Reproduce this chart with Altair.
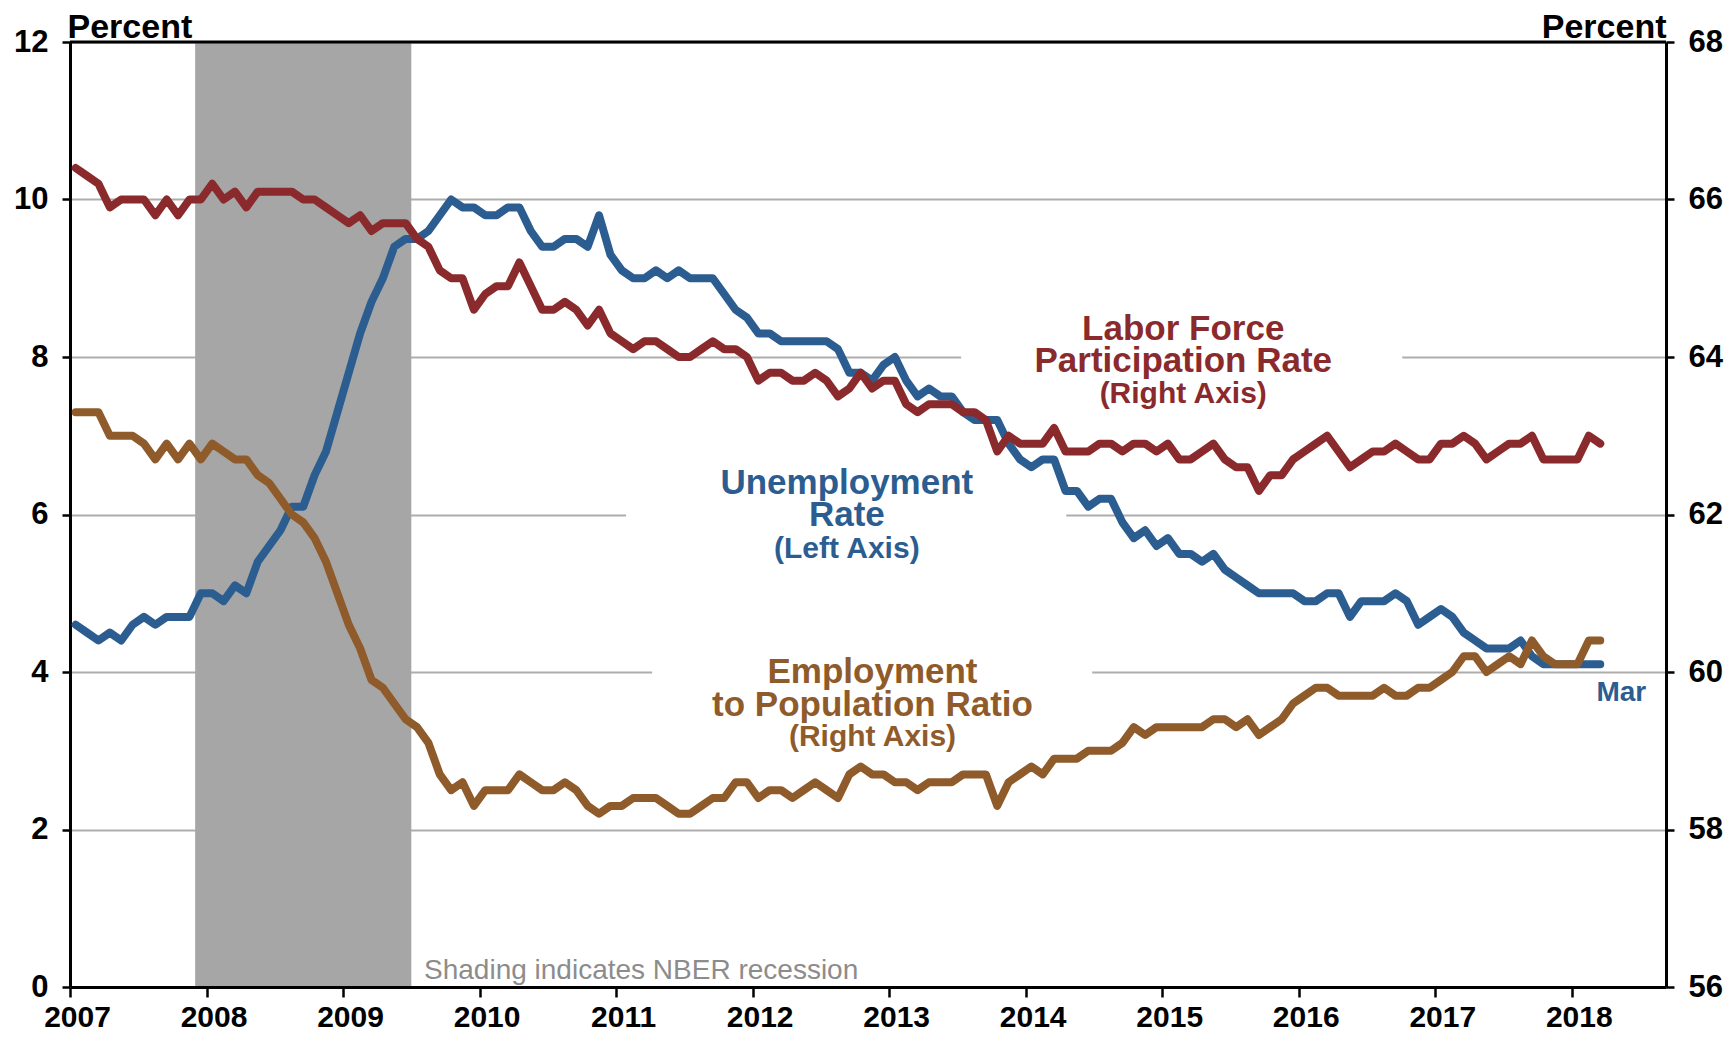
import altair as alt
import pandas as pd

FONT = "Liberation Sans"
BLUE = "#2C5D91"
RED = "#8B2A2C"
BROWN = "#8F5B2A"
SHADE = "#A6A6A6"
GRID = "#ADADAD"
NOTE_COLOR = "#8C8C8C"

# ---------------- data (monthly, Jan 2007 - Mar 2018) ----------------
START_YEAR = 2007

unemployment = [
    4.6, 4.5, 4.4, 4.5, 4.4, 4.6, 4.7, 4.6, 4.7, 4.7, 4.7, 5.0,
    5.0, 4.9, 5.1, 5.0, 5.4, 5.6, 5.8, 6.1, 6.1, 6.5, 6.8, 7.3,
    7.8, 8.3, 8.7, 9.0, 9.4, 9.5, 9.5, 9.6, 9.8, 10.0, 9.9, 9.9,
    9.8, 9.8, 9.9, 9.9, 9.6, 9.4, 9.4, 9.5, 9.5, 9.4, 9.8, 9.3,
    9.1, 9.0, 9.0, 9.1, 9.0, 9.1, 9.0, 9.0, 9.0, 8.8, 8.6, 8.5,
    8.3, 8.3, 8.2, 8.2, 8.2, 8.2, 8.2, 8.1, 7.8, 7.8, 7.7, 7.9,
    8.0, 7.7, 7.5, 7.6, 7.5, 7.5, 7.3, 7.2, 7.2, 7.2, 6.9, 6.7,
    6.6, 6.7, 6.7, 6.3, 6.3, 6.1, 6.2, 6.2, 5.9, 5.7, 5.8, 5.6,
    5.7, 5.5, 5.5, 5.4, 5.5, 5.3, 5.2, 5.1, 5.0, 5.0, 5.0, 5.0,
    4.9, 4.9, 5.0, 5.0, 4.7, 4.9, 4.9, 4.9, 5.0, 4.9, 4.6, 4.7,
    4.8, 4.7, 4.5, 4.4, 4.3, 4.3, 4.3, 4.4, 4.2, 4.1, 4.1, 4.1,
    4.1, 4.1, 4.1,
]

participation = [
    66.4, 66.3, 66.2, 65.9, 66.0, 66.0, 66.0, 65.8, 66.0, 65.8, 66.0, 66.0,
    66.2, 66.0, 66.1, 65.9, 66.1, 66.1, 66.1, 66.1, 66.0, 66.0, 65.9, 65.8,
    65.7, 65.8, 65.6, 65.7, 65.7, 65.7, 65.5, 65.4, 65.1, 65.0, 65.0, 64.6,
    64.8, 64.9, 64.9, 65.2, 64.9, 64.6, 64.6, 64.7, 64.6, 64.4, 64.6, 64.3,
    64.2, 64.1, 64.2, 64.2, 64.1, 64.0, 64.0, 64.1, 64.2, 64.1, 64.1, 64.0,
    63.7, 63.8, 63.8, 63.7, 63.7, 63.8, 63.7, 63.5, 63.6, 63.8, 63.6, 63.7,
    63.7, 63.4, 63.3, 63.4, 63.4, 63.4, 63.3, 63.3, 63.2, 62.8, 63.0, 62.9,
    62.9, 62.9, 63.1, 62.8, 62.8, 62.8, 62.9, 62.9, 62.8, 62.9, 62.9, 62.8,
    62.9, 62.7, 62.7, 62.8, 62.9, 62.7, 62.6, 62.6, 62.3, 62.5, 62.5, 62.7,
    62.8, 62.9, 63.0, 62.8, 62.6, 62.7, 62.8, 62.8, 62.9, 62.8, 62.7, 62.7,
    62.9, 62.9, 63.0, 62.9, 62.7, 62.8, 62.9, 62.9, 63.0, 62.7, 62.7, 62.7,
    62.7, 63.0, 62.9,
]

emp_pop = [
    63.3, 63.3, 63.3, 63.0, 63.0, 63.0, 62.9, 62.7, 62.9, 62.7, 62.9, 62.7,
    62.9, 62.8, 62.7, 62.7, 62.5, 62.4, 62.2, 62.0, 61.9, 61.7, 61.4, 61.0,
    60.6, 60.3, 59.9, 59.8, 59.6, 59.4, 59.3, 59.1, 58.7, 58.5, 58.6, 58.3,
    58.5, 58.5, 58.5, 58.7, 58.6, 58.5, 58.5, 58.6, 58.5, 58.3, 58.2, 58.3,
    58.3, 58.4, 58.4, 58.4, 58.3, 58.2, 58.2, 58.3, 58.4, 58.4, 58.6, 58.6,
    58.4, 58.5, 58.5, 58.4, 58.5, 58.6, 58.5, 58.4, 58.7, 58.8, 58.7, 58.7,
    58.6, 58.6, 58.5, 58.6, 58.6, 58.6, 58.7, 58.7, 58.7, 58.3, 58.6, 58.7,
    58.8, 58.7, 58.9, 58.9, 58.9, 59.0, 59.0, 59.0, 59.1, 59.3, 59.2, 59.3,
    59.3, 59.3, 59.3, 59.3, 59.4, 59.4, 59.3, 59.4, 59.2, 59.3, 59.4, 59.6,
    59.7, 59.8, 59.8, 59.7, 59.7, 59.7, 59.7, 59.8, 59.7, 59.7, 59.8, 59.8,
    59.9, 60.0, 60.2, 60.2, 60.0, 60.1, 60.2, 60.1, 60.4, 60.2, 60.1, 60.1,
    60.1, 60.4, 60.4,
]

# NBER recession: Dec 2007 through Jun 2009 (year, month)
recession_start = (2007, 12)
recession_end = (2009, 6)

year_ticks = list(range(2007, 2019))
left_ticks = [0, 2, 4, 6, 8, 10, 12]
right_ticks = [56, 58, 60, 62, 64, 66, 68]

# ---------------- annotations (positions in data units, left scale) ----------------
ann_text = ["Labor Force", "Participation Rate", "(Right Axis)",
            "Unemployment", "Rate", "(Left Axis)",
            "Employment", "to Population Ratio", "(Right Axis)",
            "Mar"]
ann_x = [2015.154, 2015.154, 2015.154,
         2012.690, 2012.690, 2012.690,
         2012.878, 2012.878, 2012.878,
         2018.363]
ann_y = [8.216, 7.810, 7.416,
         6.260, 5.854, 5.444,
         3.857, 3.441, 3.060,
         3.636]
ann_size = [35, 35, 30, 35, 35, 30, 35, 35, 30, 28]
ann_color = [RED, RED, RED, BLUE, BLUE, BLUE, BROWN, BROWN, BROWN, BLUE]

note_text = ["Shading indicates NBER recession"]
note_x = [2009.593]
note_y = [0.10]

# white breaks in the gridlines behind the labels
gap_line = [8, 6, 4]
gap_x0 = [2013.527, 2011.073, 2011.264]
gap_x1 = [2016.758, 2014.297, 2014.487]
GAP_HALF = 0.07

# ---------------- build tables ----------------
n = len(unemployment)
df = pd.DataFrame({
    # monthly observations placed at the middle of each month
    "t": [START_YEAR + (i + 0.5) / 12 for i in range(n)],
    "unemp": unemployment,
    "lfpr": participation,
    "epop": emp_pop,
})
rec_df = pd.DataFrame({
    "start": [recession_start[0] + (recession_start[1] - 1) / 12],
    "end": [recession_end[0] + recession_end[1] / 12],
})
ann_df = pd.DataFrame({"label": ann_text, "x": ann_x, "y": ann_y,
                       "size": ann_size, "color": ann_color})
note_df = pd.DataFrame({"label": note_text, "x": note_x, "y": note_y})
gap_df = pd.DataFrame({
    "x0": gap_x0, "x1": gap_x1,
    "y0": [g - GAP_HALF for g in gap_line],
    "y1": [g + GAP_HALF for g in gap_line],
})
border_df = pd.DataFrame({"v": [left_ticks[-1]]})

# ---------------- scales / axes ----------------
x_scale = alt.Scale(domain=[2007, 2018.69], nice=False, zero=False)
left_scale = alt.Scale(domain=[0, 12], nice=False, zero=False)
right_scale = alt.Scale(domain=[56, 68], nice=False, zero=False)

x_axis = alt.Axis(
    values=year_ticks, format="d", title=None, grid=False, orient="bottom",
    domainColor="black", domainWidth=3, tickColor="black", tickWidth=2.5,
    tickSize=10, labelPadding=5, labelOffset=7, labelFlush=False,
    labelFont=FONT, labelFontSize=30, labelFontWeight="bold", labelColor="black",
    zindex=1,
)

left_axis = alt.Axis(
    values=left_ticks, format="d", orient="left",
    grid=True, gridColor=GRID, gridWidth=2,
    domainColor="black", domainWidth=3, tickColor="black", tickWidth=2.5,
    tickSize=8, labelPadding=14,
    labelFont=FONT, labelFontSize=31, labelFontWeight="bold", labelColor="black",
    title="Percent", titleAngle=0, titleAlign="left", titleBaseline="alphabetic",
    titleX=-3, titleY=-5, titleFont=FONT, titleFontSize=34,
    titleFontWeight="bold", titleColor="black",
)

right_axis = alt.Axis(
    values=right_ticks, format="d", orient="right", grid=False,
    domainColor="black", domainWidth=3, tickColor="black", tickWidth=2.5,
    tickSize=8, labelPadding=14,
    labelFont=FONT, labelFontSize=31, labelFontWeight="bold", labelColor="black",
    title="Percent", titleAngle=0, titleAlign="right", titleBaseline="alphabetic",
    titleX=0, titleY=-5, titleFont=FONT, titleFontSize=34,
    titleFontWeight="bold", titleColor="black", zindex=1,
)

line_style = dict(strokeWidth=8, strokeJoin="round", strokeCap="round")


def xenc(field):
    # every layer carries the same x axis definition so the shared axis merges cleanly
    return alt.X(field, scale=x_scale, axis=x_axis)


# ---------------- layers ----------------
recession = alt.Chart(rec_df).mark_rect(color=SHADE).encode(
    x=xenc("start:Q"),
    x2="end:Q",
)

gaps = alt.Chart(gap_df).mark_rect(color="white").encode(
    x=xenc("x0:Q"),
    x2="x1:Q",
    y=alt.Y("y0:Q", scale=left_scale, axis=None),
    y2="y1:Q",
)

unemp_line = alt.Chart(df).mark_line(color=BLUE, **line_style).encode(
    x=xenc("t:Q"),
    y=alt.Y("unemp:Q", scale=left_scale, axis=left_axis),
)

lfpr_line = alt.Chart(df).mark_line(color=RED, **line_style).encode(
    x=xenc("t:Q"),
    y=alt.Y("lfpr:Q", scale=right_scale, axis=right_axis),
)

epop_line = alt.Chart(df).mark_line(color=BROWN, **line_style).encode(
    x=xenc("t:Q"),
    y=alt.Y("epop:Q", scale=right_scale, axis=None),
)

border = alt.Chart(border_df).mark_rule(color="black", strokeWidth=3).encode(
    y=alt.Y("v:Q", scale=left_scale, axis=None),
)

annotations = alt.Chart(ann_df).mark_text(
    font=FONT, fontWeight="bold", align="center", baseline="alphabetic"
).encode(
    x=xenc("x:Q"),
    y=alt.Y("y:Q", scale=left_scale, axis=None),
    text="label:N",
    size=alt.Size("size:Q", scale=None),
    color=alt.Color("color:N", scale=None),
)

note = alt.Chart(note_df).mark_text(
    font=FONT, fontSize=28, align="left", baseline="alphabetic", color=NOTE_COLOR
).encode(
    x=xenc("x:Q"),
    y=alt.Y("y:Q", scale=left_scale, axis=None),
    text="label:N",
)

chart = (
    alt.layer(recession, gaps, unemp_line, lfpr_line, epop_line,
              border, annotations, note)
    .resolve_scale(y="independent")
    .properties(
        width=1596,
        height=945,
        padding={"left": 62, "top": 34, "right": 59, "bottom": 47},
        autosize=alt.AutoSizeParams(type="none"),
        background="white",
    )
    .configure_view(stroke=None)
)

chart.save("out.html", embed_options={"renderer": "svg", "actions": False})
